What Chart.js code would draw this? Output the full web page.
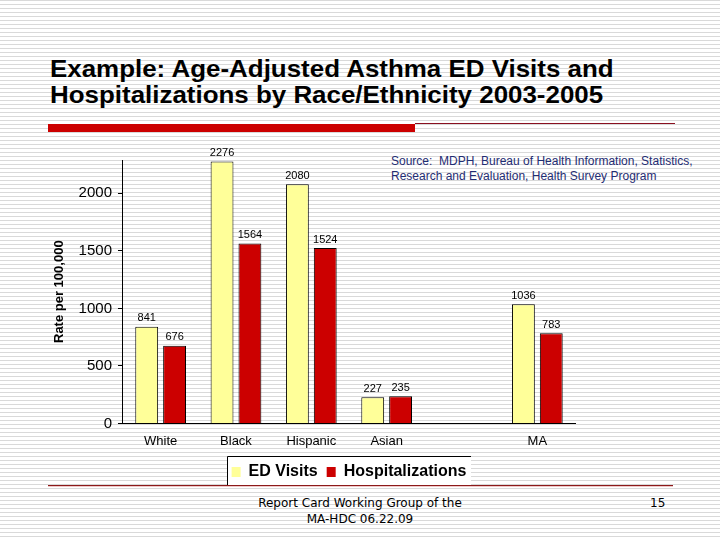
<!DOCTYPE html>
<html>
<head>
<meta charset="utf-8">
<script src="https://cdn.jsdelivr.net/npm/chart.js@4.4.0/dist/chart.umd.min.js"></script>
<style>
  html, body { margin: 0; padding: 0; }
  body {
    width: 720px; height: 540px; position: relative; overflow: hidden;
    background: repeating-linear-gradient(to bottom, #d9d9d9 0px, #d9d9d9 1px, #ffffff 1px, #ffffff 4px);
    font-family: "Liberation Sans", Arial, sans-serif;
  }
  #title {
    position: absolute; left: 50px; top: 56px;
    font-size: 24px; font-weight: bold; line-height: 26px; color: #000;
    transform: scaleX(1.08); transform-origin: left top; white-space: nowrap;
  }
  #redbar { position: absolute; left: 48px; top: 124px; width: 367px; height: 8px; background: #cc0000; }
  #redline { position: absolute; left: 415px; top: 123px; width: 260px; height: 1px; background: #8a1020; }
  #source {
    position: absolute; left: 391px; top: 154px;
    font-size: 12px; line-height: 15px; color: #1f2d73; white-space: nowrap;
  }
  #footline { position: absolute; left: 48px; top: 485px; width: 625px; height: 1px; background: #8b1a1a; border-bottom: 1px solid #f0c8c8; }
  #footer {
    position: absolute; left: 210px; width: 300px; top: 495px; text-align: center;
    font-family: "DejaVu Sans", sans-serif; font-size: 12px; line-height: 16px; color: #000;
  }
  #pagenum {
    position: absolute; left: 650px; top: 495px;
    font-family: "DejaVu Sans", sans-serif; font-size: 12px; line-height: 16px; color: #000;
  }
  #chartWrap { position: absolute; left: 40px; top: 140px; width: 680px; height: 350px; }
</style>
</head>
<body>
<div id="title">Example: Age-Adjusted Asthma ED Visits and<br>Hospitalizations by Race/Ethnicity 2003-2005</div>
<div id="redbar"></div>
<div id="redline"></div>
<div id="source">Source:&nbsp; MDPH, Bureau of Health Information, Statistics,<br>Research and Evaluation, Health Survey Program</div>
<div id="chartWrap"><canvas id="chart" width="680" height="350"></canvas></div>
<div id="footline"></div>
<div id="footer">Report Card Working Group of the<br>MA-HDC 06.22.09</div>
<div id="pagenum">15</div>
<script>
// chart data
var categories = ["White", "Black", "Hispanic", "Asian", "", "MA"];
var edVisits = [841, 2276, 2080, 227, null, 1036];
var hospitalizations = [676, 1564, 1524, 235, null, 783];
var yTicks = [0, 500, 1000, 1500, 2000];

var FONT = "'Liberation Sans', Arial, sans-serif";

// numbers above the bars
var valueLabels = {
    id: "valueLabels",
    afterDatasetsDraw(chart) {
        var ctx = chart.ctx;
        ctx.save();
        ctx.font = "11px " + FONT;
        ctx.fillStyle = "#000";
        ctx.textAlign = "center";
        ctx.textBaseline = "bottom";
        chart.data.datasets.forEach((ds, i) => {
            chart.getDatasetMeta(i).data.forEach((bar, j) => {
                if (ds.data[j] == null) return;
                ctx.fillText(ds.data[j], bar.x, bar.y - 3);
            });
        });
        ctx.restore();
    }
};

// white box with top/left border behind the legend
var legendBox = {
    id: "legendBox",
    beforeDraw(chart) {
        var lg = chart.legend;
        if (!lg || !lg.legendHitBoxes || !lg.legendHitBoxes.length) return;
        var hb = lg.legendHitBoxes;
        var first = hb[0], last = hb[hb.length - 1];
        var l = Math.round(first.left) - 4.5, r = Math.round(last.left + last.width) + 5;
        var t = Math.round(first.top) - 7.5, b = Math.round(first.top + first.height) + 6;
        var ctx = chart.ctx;
        ctx.save();
        ctx.fillStyle = "#fff";
        ctx.fillRect(l, t, r - l, b - t);
        ctx.strokeStyle = "#000";
        ctx.lineWidth = 1;
        ctx.beginPath();
        ctx.moveTo(l, b);
        ctx.lineTo(l, t);
        ctx.lineTo(r, t);
        ctx.stroke();
        ctx.restore();
    }
};

new Chart(document.getElementById("chart").getContext("2d"), {
    type: "bar",
    data: {
        labels: categories,
        datasets: [
            {
                label: "ED Visits",
                data: edVisits,
                backgroundColor: "#ffff99",
                borderColor: "#000",
                borderWidth: 1,
                barPercentage: 0.82,
                categoryPercentage: 0.74
            },
            {
                label: "Hospitalizations",
                data: hospitalizations,
                backgroundColor: "#cc0000",
                borderColor: "#000",
                borderWidth: 1,
                barPercentage: 0.82,
                categoryPercentage: 0.74
            }
        ]
    },
    options: {
        responsive: false,
        animation: false,
        layout: { padding: { left: 12, right: 145, top: 20, bottom: 0 } },
        plugins: {
            legend: {
                position: "bottom",
                fullSize: false,
                labels: {
                    boxWidth: 9,
                    boxHeight: 10,
                    padding: 9,
                    color: "#000",
                    font: { family: FONT, size: 16, weight: "bold" },
                    generateLabels(chart) {
                        var items = Chart.defaults.plugins.legend.labels.generateLabels(chart);
                        items.forEach(it => { it.lineWidth = 0; it.strokeStyle = "rgba(0,0,0,0)"; });
                        return items;
                    }
                }
            },
            tooltip: { enabled: false }
        },
        scales: {
            x: {
                grid: { display: false, drawTicks: false },
                border: { color: "#000", width: 1 },
                ticks: { color: "#000", font: { family: FONT, size: 13 }, padding: 10 },
                afterFit(scale) { scale.height -= 4; }
            },
            y: {
                min: 0,
                max: 2290,
                afterBuildTicks(scale) { scale.ticks = yTicks.map(v => ({ value: v })); },
                ticks: {
                    color: "#000",
                    font: { family: FONT, size: 15 },
                    padding: 6,
                    callback: v => String(v)
                },
                grid: { drawOnChartArea: false, tickLength: 5, tickColor: "#000", color: "#000" },
                border: { color: "#000", width: 1 },
                title: {
                    display: true,
                    text: "Rate per 100,000",
                    color: "#000",
                    font: { family: FONT, size: 13, weight: "bold" },
                    padding: { top: 0, bottom: 5 }
                }
            }
        }
    },
    plugins: [legendBox, valueLabels]
});
</script>
</body>
</html>
